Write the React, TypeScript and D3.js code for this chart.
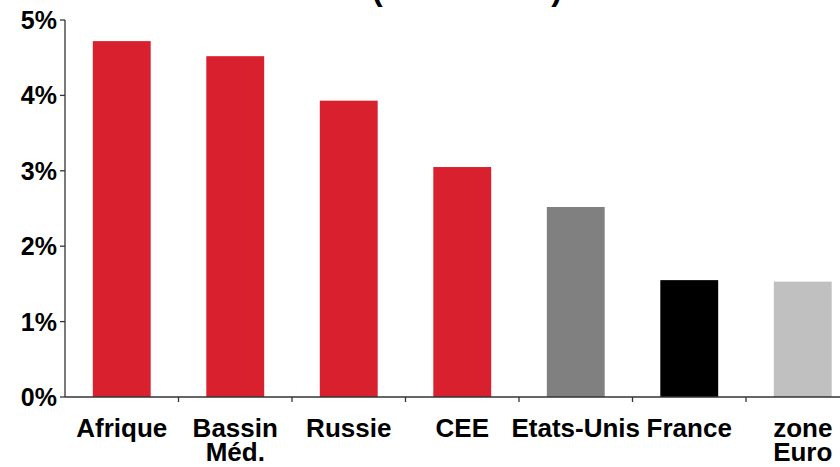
import React from "react";
import * as d3 from "d3";

const categories = ["Afrique", "Bassin Méd.", "Russie", "CEE", "Etats-Unis", "France", "zone Euro"];
const labelLines = [["Afrique"], ["Bassin", "Méd."], ["Russie"], ["CEE"], ["Etats-Unis"], ["France"], ["zone", "Euro"]];
const values = [4.72, 4.52, 3.93, 3.05, 2.52, 1.55, 1.53];
const colors = ["#d9202e", "#d9202e", "#d9202e", "#d9202e", "#808080", "#000000", "#c0c0c0"];
const yTicks = [0, 1, 2, 3, 4, 5];
const title = "(2000 - 2008)";

export default function App() {
  const W = 840, H = 467;
  const x0 = 65, y0 = 397, yTop = 20;
  const x = d3.scaleBand<string>().domain(categories).range([x0, x0 + 113.5 * 7]).paddingInner(0.49).paddingOuter(0.245);
  const y = d3.scaleLinear().domain([0, 5]).range([y0, yTop]);
  const font = "'Liberation Sans', Arial, sans-serif";
  const boundaries = d3.range(1, categories.length + 1).map((i) => x0 + x.step() * i);
  return (
    <svg width={W} height={H} style={{ position: "absolute", left: 0, top: 0, background: "#fff" }} fontFamily={font}>
      <text x={467} y={0} textAnchor="middle" fontSize={32} fontWeight="bold" textLength={190} lengthAdjust="spacing">{title}</text>
      {categories.map((c, i) => (
        <rect key={c} x={x(c)} y={y(values[i])} width={x.bandwidth()} height={y0 - y(values[i])} fill={colors[i]} />
      ))}
      <line x1={x0} x2={x0} y1={yTop} y2={y0} stroke="#333" strokeWidth={1.3} />
      <line x1={x0} x2={W} y1={y0} y2={y0} stroke="#333" strokeWidth={1.3} />
      {yTicks.map((t) => (
        <g key={t}>
          <line x1={x0 - 5} x2={x0} y1={y(t)} y2={y(t)} stroke="#333" strokeWidth={1.3} />
          <text x={57} y={y(t) + 9} textAnchor="end" fontSize={25} fontWeight="bold">{t}%</text>
        </g>
      ))}
      {boundaries.map((b, i) => (
        <line key={i} x1={b} x2={b} y1={y0} y2={y0 + 5} stroke="#333" strokeWidth={1.3} />
      ))}
      {categories.map((c, i) => (
        <text key={c} x={(x(c) as number) + x.bandwidth() / 2} y={437} textAnchor="middle" fontSize={26} fontWeight="bold">
          {labelLines[i].map((l, j) => (
            <tspan key={j} x={(x(c) as number) + x.bandwidth() / 2} dy={j === 0 ? 0 : 24}>{l}</tspan>
          ))}
        </text>
      ))}
    </svg>
  );
}
